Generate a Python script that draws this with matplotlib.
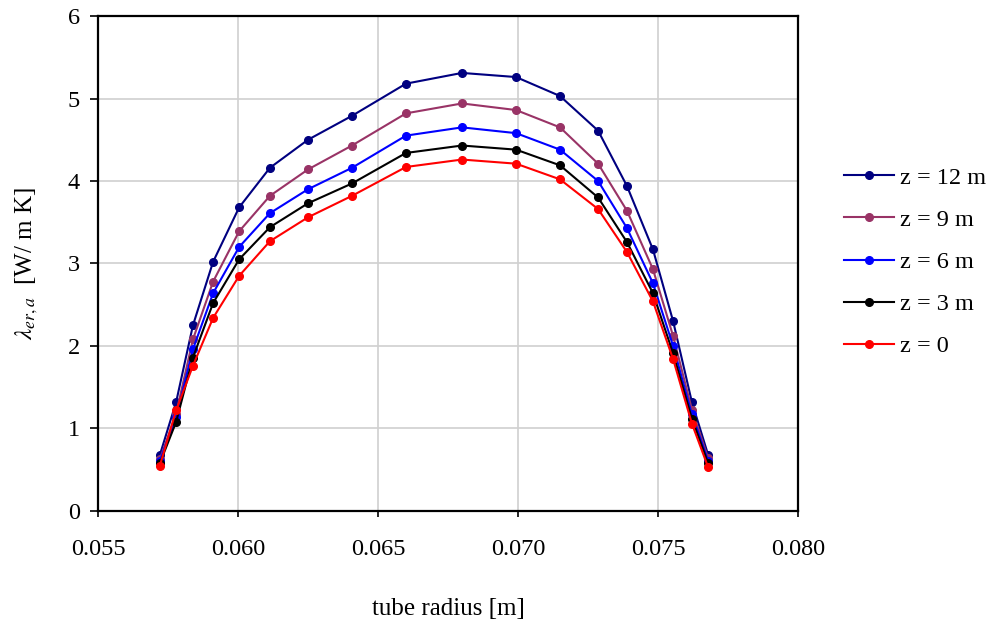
import numpy as np
import matplotlib
matplotlib.use('Agg')
import matplotlib.pyplot as plt

plt.rcParams['font.family'] = ['Liberation Serif', 'DejaVu Serif']
plt.rcParams['mathtext.fontset'] = 'stix'

# tube radius [m]
radius = [0.05721, 0.05779, 0.05839, 0.05911, 0.06004, 0.06114, 0.06250, 0.06407, 0.06600,
          0.06800, 0.06993, 0.07150, 0.07286, 0.07389, 0.07482, 0.07554, 0.07621, 0.07679]

# lambda_er,a [W/ m K] per axial position
lam_z12 = [0.68, 1.32, 2.25, 3.02, 3.68, 4.16, 4.50, 4.79, 5.18,
           5.31, 5.26, 5.03, 4.61, 3.94, 3.17, 2.30, 1.32, 0.68]
lam_z9 = [0.63, 1.18, 2.08, 2.78, 3.39, 3.82, 4.14, 4.43, 4.82,
          4.94, 4.86, 4.65, 4.21, 3.64, 2.93, 2.12, 1.23, 0.64]
lam_z6 = [0.61, 1.14, 1.96, 2.64, 3.20, 3.61, 3.90, 4.16, 4.55,
          4.65, 4.58, 4.38, 4.00, 3.43, 2.76, 2.00, 1.17, 0.61]
lam_z3 = [0.58, 1.08, 1.86, 2.52, 3.05, 3.44, 3.73, 3.97, 4.34,
          4.43, 4.38, 4.19, 3.80, 3.26, 2.64, 1.91, 1.12, 0.58]
lam_z0 = [0.55, 1.22, 1.76, 2.34, 2.85, 3.27, 3.56, 3.82, 4.17,
          4.26, 4.21, 4.02, 3.66, 3.14, 2.54, 1.84, 1.06, 0.53]

series = [
    ('z = 12 m', lam_z12, '#000080'),
    ('z = 9 m', lam_z9, '#993366'),
    ('z = 6 m', lam_z6, '#0000FF'),
    ('z = 3 m', lam_z3, '#000000'),
    ('z = 0', lam_z0, '#FF0000'),
]

fig = plt.figure(figsize=(9.88, 6.30), dpi=100)
ax = fig.add_axes([0.0992, 0.1889, 0.7085, 0.7857])

for label, vals, col in series:
    ax.plot(radius, vals, color=col, lw=1.5, marker='o', ms=5.5, label=label)

ax.set_xlim(0.055, 0.080)
ax.set_ylim(0, 6)
ax.set_xticks(np.arange(0.055, 0.0801, 0.005))
ax.set_xticklabels(['0.055', '0.060', '0.065', '0.070', '0.075', '0.080'])
ax.set_yticks(range(7))
ax.grid(True, color='#d0d0d0', lw=1.2)
ax.set_axisbelow(True)
for s in ax.spines.values():
    s.set_linewidth(1.6)
ax.tick_params(labelsize=17.5, direction='out', width=1.2)
ax.tick_params(axis='x', length=4.5, pad=16)
ax.tick_params(axis='y', length=6, pad=7)

ax.set_xlabel('tube radius [m]', fontsize=18, labelpad=27)
ax.set_ylabel(r'$\lambda_{er,a}$  [W/ m K]', fontsize=18, labelpad=20)

ax.legend(loc='center left', bbox_to_anchor=(1.034, 0.503), frameon=False,
          fontsize=17.5, handlelength=2.05, labelspacing=0.83, handletextpad=0.25)

fig.savefig('out.png', dpi=100)
